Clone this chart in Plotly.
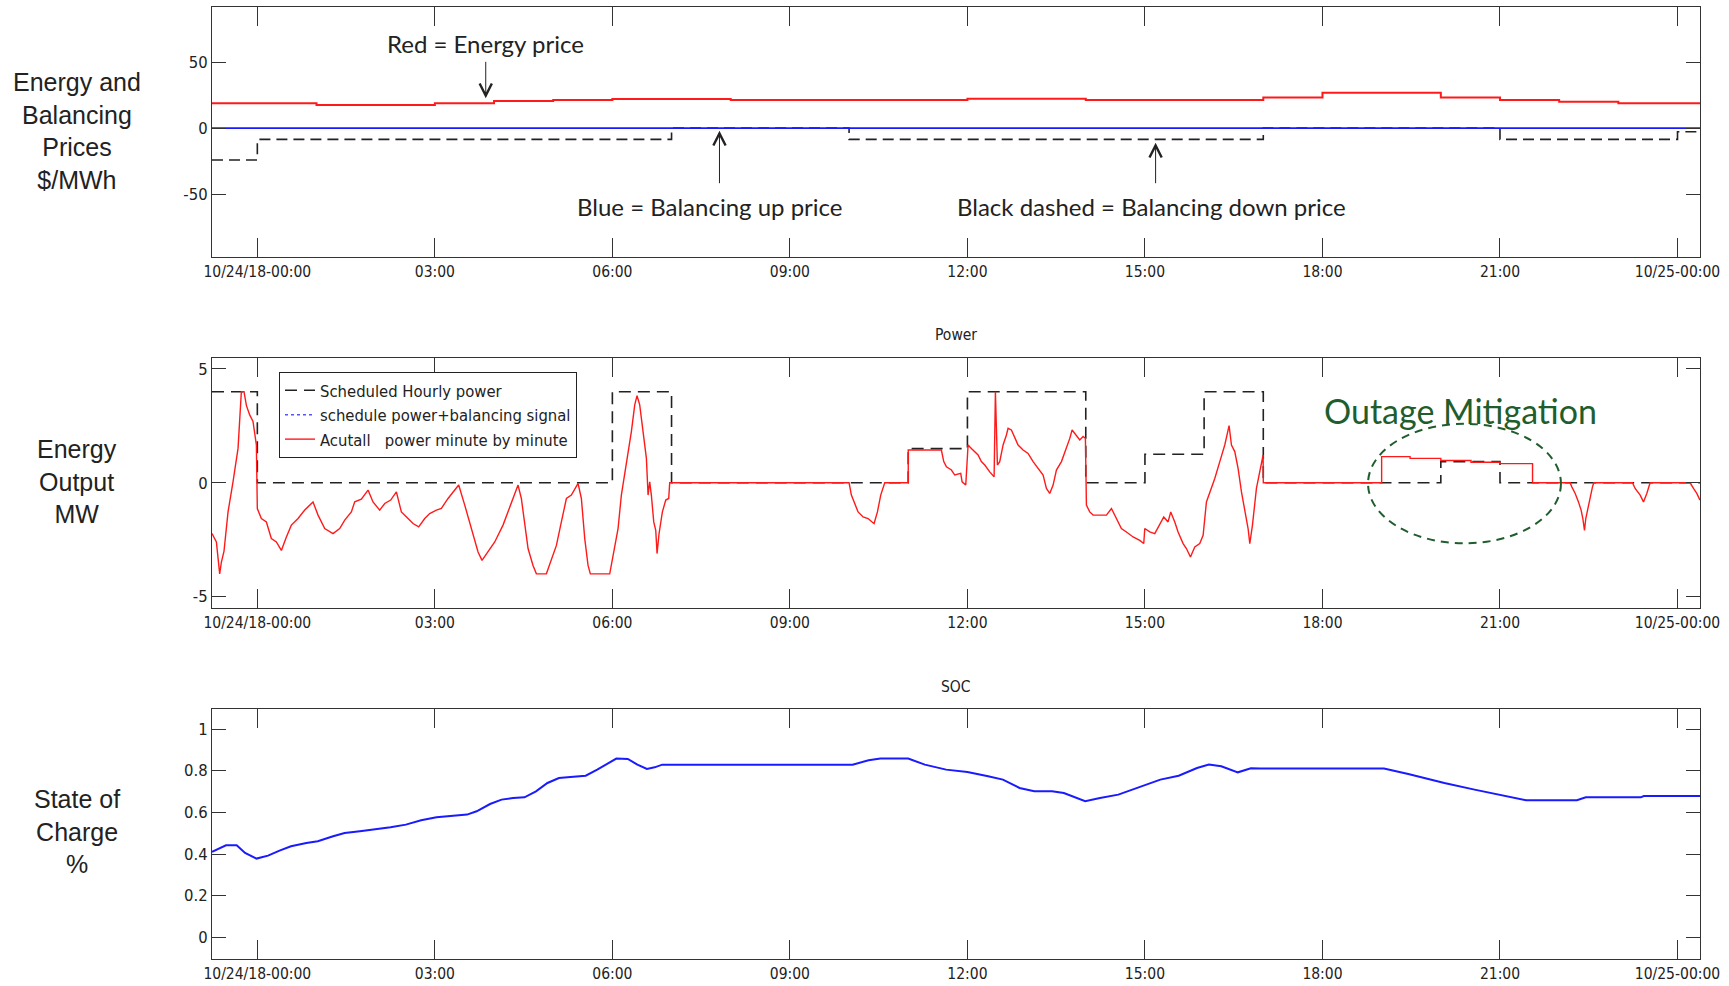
import pandas as pd
import plotly.graph_objects as go
from plotly.subplots import make_subplots

BASE = pd.Timestamp("2018-10-24 00:00")
X_START_H, X_END_H = -0.766, 24.38

# ---------------- Prices ($/MWh), hourly steps ----------------
price_hours = [-0.766, 1, 3, 4, 5, 6, 8, 12, 14, 17, 18, 20, 21, 22, 23, 24.38]
energy_price = [18.7, 17.4, 18.7, 20.5, 21.2, 22.0, 21.2, 22.2, 21.2, 23.2, 26.8, 23.2, 21.2, 19.9, 18.7, 18.7]
bal_up_hours = [-0.766, 24.38]
bal_up_price = [0.0, 0.0]
bal_down_hours = [-0.766, 0, 7, 10, 17, 21, 24, 24.38]
bal_down_price = [-24.2, -8.6, 0.0, -8.6, 0.0, -8.6, -2.8, -2.8]

# ---------------- Power (MW) ----------------
sched_hours = [-0.766, 0, 6, 7, 11, 12, 14, 15, 16, 17, 20, 21, 24.38]
sched_mw = [4, 0, 4, 0, 1.5, 4, 0, 1.25, 4, 0, 0.93, 0, 0]

power_hours = [
    -0.766, -0.692, -0.636, -0.608, -0.563, -0.495, -0.411, -0.326, -0.270, -0.225,
    -0.185, -0.129, -0.073, -0.016, 0.0, 0.068, 0.153, 0.237, 0.322, 0.406,
    0.491, 0.575, 0.688, 0.801, 0.941, 1.026, 1.139, 1.279, 1.392, 1.477,
    1.589, 1.646, 1.758, 1.871, 1.955, 2.068, 2.153, 2.254, 2.350, 2.434,
    2.547, 2.631, 2.727, 2.829, 2.913, 3.026, 3.110, 3.223, 3.336, 3.403,
    3.505, 3.617, 3.730, 3.797, 3.899, 4.012, 4.152, 4.237, 4.321, 4.406,
    4.462, 4.519, 4.575, 4.659, 4.716, 4.885, 4.969, 5.054, 5.138, 5.223,
    5.307, 5.364, 5.420, 5.476, 5.533, 5.589, 5.628, 5.955, 6.011, 6.096,
    6.152, 6.237, 6.321, 6.378, 6.417, 6.462, 6.519, 6.575, 6.603, 6.631,
    6.659, 6.699, 6.733, 6.755, 6.789, 6.845, 6.902, 6.952, 6.969, 7.0,
    10.0, 10.039, 10.096, 10.152, 10.237, 10.321, 10.389, 10.423, 10.479, 10.535,
    10.603, 11.0, 11.0, 11.560, 11.600, 11.645, 11.730, 11.786, 11.887, 11.910,
    11.972, 12.011, 12.067, 12.124, 12.180, 12.236, 12.293, 12.377, 12.451, 12.473,
    12.496, 12.507, 12.546, 12.603, 12.659, 12.687, 12.743, 12.800, 12.856, 12.941,
    13.025, 13.110, 13.194, 13.279, 13.335, 13.391, 13.448, 13.504, 13.589, 13.673,
    13.730, 13.769, 13.842, 13.899, 13.955, 13.994, 14.011, 14.067, 14.124, 14.236,
    14.349, 14.434, 14.518, 14.602, 14.687, 14.800, 14.912, 14.980, 14.997, 15.081,
    15.166, 15.250, 15.318, 15.391, 15.436, 15.504, 15.560, 15.645, 15.701, 15.769,
    15.842, 15.926, 15.983, 16.039, 16.124, 16.180, 16.265, 16.349, 16.422, 16.462,
    16.518, 16.574, 16.631, 16.687, 16.743, 16.772, 16.817, 16.884, 16.941, 16.997,
    17.0, 19.0, 19.0, 19.48, 19.48, 20.0, 20.0, 20.51, 20.51, 21.0,
    21.0, 21.55, 21.55, 22.185, 22.214, 22.271, 22.326, 22.371, 22.400, 22.428,
    22.450, 22.484, 22.523, 22.563, 22.585, 23.239, 23.284, 23.369, 23.425, 23.481,
    23.537, 24.213, 24.270, 24.326, 24.38,
]
power_mw = [
    -2.23, -2.6, -4.0, -3.5, -3.0, -1.28, 0.04, 1.51, 4.0, 4.0,
    3.4, 2.98, 2.69, 1.66, -1.13, -1.57, -1.72, -2.45, -2.6, -2.97,
    -2.38, -1.86, -1.57, -1.2, -0.84, -1.42, -2.01, -2.23, -2.01, -1.64,
    -1.28, -0.84, -0.72, -0.32, -0.84, -1.2, -0.91, -0.76, -0.4, -1.28,
    -1.57, -1.79, -1.94, -1.57, -1.35, -1.2, -1.13, -0.69, -0.32, -0.1,
    -0.98, -2.01, -3.04, -3.41, -3.04, -2.6, -1.86, -1.28, -0.69, -0.1,
    -0.69, -1.72, -2.89, -3.63, -4.0, -4.0, -3.33, -2.75, -1.72, -0.69,
    -0.54, -0.25, -0.03, -0.69, -2.45, -3.63, -4.0, -4.0, -3.19, -2.01,
    -0.54, 0.78, 2.25, 3.42, 3.83, 3.42, 2.25, 1.07, -0.54, 0.04,
    -0.54, -1.72, -2.09, -3.11, -2.23, -1.28, -0.76, -0.69, 0.0, 0.0,
    0.0, -0.54, -0.91, -1.28, -1.5, -1.57, -1.72, -1.79, -1.28, -0.54,
    0.0, 0.0, 1.44, 1.44, 0.93, 0.7, 0.56, 0.34, 0.41, 0.04,
    -0.1, 1.66, 1.51, 1.37, 1.22, 0.93, 0.78, 0.48, 0.26, 4.0,
    2.25, 0.78, 0.93, 1.66, 2.1, 2.39, 2.32, 1.95, 1.66, 1.44,
    1.29, 0.93, 0.63, 0.34, -0.25, -0.47, -0.1, 0.56, 0.93, 1.51,
    1.95, 2.32, 2.1, 1.88, 2.03, 1.95, -0.98, -1.28, -1.42, -1.42,
    -1.42, -1.13, -1.57, -2.01, -2.16, -2.38, -2.53, -2.67, -2.01, -2.16,
    -2.23, -1.86, -1.5, -1.72, -1.28, -1.72, -2.16, -2.67, -2.89, -3.26,
    -2.82, -2.67, -2.31, -0.84, -0.25, 0.19, 0.93, 1.66, 2.51, 1.66,
    1.37, 0.63, -0.4, -1.28, -2.01, -2.67, -1.86, -0.25, 0.48, 1.22,
    0.0, 0.0, 1.15, 1.15, 1.07, 1.07, 0.98, 0.98, 0.9, 0.9,
    0.84, 0.84, 0.0, 0.0, -0.18, -0.47, -0.84, -1.2, -1.57, -2.09,
    -1.57, -1.13, -0.69, -0.18, 0.0, 0.0, -0.25, -0.54, -0.84, -0.47,
    0.0, 0.0, -0.25, -0.47, -0.76,
]

# ---------------- State of charge ----------------
soc_hours = [
    -0.766, -0.660, -0.530, -0.349, -0.207, -0.013, 0.181, 0.375, 0.569, 0.828,
    1.022, 1.281, 1.475, 1.733, 1.992, 2.251, 2.510, 2.768, 3.027, 3.286,
    3.545, 3.706, 3.933, 4.127, 4.321, 4.515, 4.709, 4.903, 5.097, 5.291,
    5.549, 5.744, 5.938, 6.067, 6.261, 6.423, 6.584, 6.714, 6.843, 10.06,
    10.33, 10.53, 11.0, 11.28, 11.64, 12.0, 12.35, 12.6, 12.88, 13.13,
    13.43, 13.63, 13.99, 14.24, 14.55, 14.95, 15.26, 15.57, 15.88, 16.08,
    16.29, 16.57, 16.79, 16.95, 19.04, 19.45, 20.06, 20.57, 21.08, 21.44,
    22.3, 22.45, 23.38, 23.43, 24.38,
]
soc = [
    0.41, 0.424, 0.442, 0.442, 0.405, 0.378, 0.392, 0.416, 0.437, 0.453,
    0.461, 0.485, 0.501, 0.509, 0.517, 0.528, 0.541, 0.562, 0.576, 0.584,
    0.589, 0.605, 0.640, 0.661, 0.669, 0.672, 0.701, 0.741, 0.765, 0.770,
    0.776, 0.805, 0.837, 0.858, 0.856, 0.829, 0.808, 0.816, 0.829, 0.829,
    0.85, 0.858, 0.858, 0.829, 0.805, 0.794, 0.773, 0.757, 0.717, 0.701,
    0.701, 0.693, 0.653, 0.669, 0.685, 0.725, 0.757, 0.776, 0.813, 0.829,
    0.821, 0.792, 0.811, 0.810, 0.810, 0.784, 0.741, 0.709, 0.680, 0.658,
    0.658, 0.672, 0.672, 0.678, 0.678,
]

# ---------------- Tick labels ----------------
tick_hours = [0, 3, 6, 9, 12, 15, 18, 21, 24]
tick_labels = ["10/24/18-00:00", "03:00", "06:00", "09:00", "12:00", "15:00", "18:00", "21:00", "10/25-00:00"]
price_ticks = [-50, 0, 50]
price_tick_labels = ["-50", "0", "50"]
power_ticks = [-5, 0, 5]
power_tick_labels = ["-5", "0", "5"]
soc_ticks = [0, 0.2, 0.4, 0.6, 0.8, 1]
soc_tick_labels = ["0", "0.2", "0.4", "0.6", "0.8", "1"]


def t(hours):
    return [BASE + pd.Timedelta(hours=h) for h in hours]


NARROW = "DejaVu Sans Condensed, Liberation Sans Narrow, sans-serif"
ARIAL = "Liberation Sans, Arial, sans-serif"
CAL = "Lato, Carlito, Calibri, sans-serif"
FRAME = "#333333"
RED = "#ff1a1a"
BLUE = "#1a1aff"
TICK_FS = 15.5

W, H = 1729, 986
ML, MR = 212, 29
PW = W - ML - MR


def ydom(top_px, bot_px):
    return [1 - bot_px / H, 1 - top_px / H]


def px_x(px):
    return (px - ML) / PW


def px_y(py):
    return 1 - py / H


fig = make_subplots(rows=3, cols=1)

# Top: prices
fig.add_trace(go.Scatter(x=t(bal_down_hours), y=bal_down_price, mode="lines", line_shape="hv",
                         line=dict(color="#222222", width=1.6, dash="11px,6px"), showlegend=False),
              row=1, col=1)
fig.add_trace(go.Scatter(x=t(bal_up_hours), y=bal_up_price, mode="lines",
                         line=dict(color=BLUE, width=1.8), showlegend=False), row=1, col=1)
fig.add_trace(go.Scatter(x=t(price_hours), y=energy_price, mode="lines", line_shape="hv",
                         line=dict(color=RED, width=2.0), showlegend=False), row=1, col=1)

# Middle: power
fig.add_trace(go.Scatter(x=t(sched_hours), y=sched_mw, mode="lines", line_shape="hv",
                         line=dict(color="#222222", width=1.6, dash="12px,7px"),
                         name="Scheduled Hourly power"), row=2, col=1)
fig.add_trace(go.Scatter(x=[None], y=[None], mode="lines",
                         line=dict(color="#5555ff", width=1.4, dash="dot"),
                         name="schedule power+balancing signal"), row=2, col=1)
fig.add_trace(go.Scatter(x=t(power_hours), y=power_mw, mode="lines",
                         line=dict(color=RED, width=1.4),
                         name="Acutall   power minute by minute"), row=2, col=1)

# Bottom: SOC
fig.add_trace(go.Scatter(x=t(soc_hours), y=soc, mode="lines",
                         line=dict(color=BLUE, width=2), showlegend=False), row=3, col=1)

xr = [BASE + pd.Timedelta(hours=X_START_H), BASE + pd.Timedelta(hours=X_END_H)]
xcommon = dict(range=xr, tickmode="array", tickvals=t(tick_hours), ticktext=tick_labels,
               ticks="inside", ticklen=19, tickcolor=FRAME, tickwidth=1,
               showline=True, linecolor=FRAME, linewidth=1.2, mirror="ticks",
               showgrid=False, zeroline=False,
               tickfont=dict(family=NARROW, size=TICK_FS, color="#222222"))
ycommon = dict(ticks="inside", ticklen=14, tickcolor=FRAME, tickwidth=1,
               showline=True, linecolor=FRAME, linewidth=1.2, mirror="ticks",
               showgrid=False, zeroline=False, tickmode="array",
               tickfont=dict(family=NARROW, size=TICK_FS + 1, color="#222222"))

doms = [ydom(7, 257), ydom(358, 608), ydom(709, 959)]
for i, ax in enumerate(["", "2", "3"]):
    fig.layout["xaxis" + ax].update(**xcommon)
    fig.layout["yaxis" + ax].update(**ycommon, domain=doms[i])

fig.layout.yaxis.update(range=[-97.7, 91.7], tickvals=price_ticks, ticktext=price_tick_labels)
fig.layout.yaxis2.update(range=[-5.5, 5.48], tickvals=power_ticks, ticktext=power_tick_labels)
fig.layout.yaxis3.update(range=[-0.104, 1.096], tickvals=soc_ticks, ticktext=soc_tick_labels)

annotations = []
# Side labels
for text, cy in [("Energy and<br>Balancing<br>Prices<br>$/MWh", 131),
                 ("Energy<br>Output<br>MW", 481),
                 ("State of<br>Charge<br>%", 831)]:
    annotations.append(dict(text=text, xref="paper", yref="paper", x=px_x(77), y=px_y(cy),
                            xanchor="center", yanchor="middle", showarrow=False,
                            font=dict(family=ARIAL, size=25, color="#222222")))
# Subplot titles
for text, cy in [("Power", 335), ("SOC", 687)]:
    annotations.append(dict(text=text, xref="paper", yref="paper", x=0.5, y=px_y(cy),
                            xanchor="center", yanchor="middle", showarrow=False,
                            font=dict(family=NARROW, size=TICK_FS, color="#222222")))


def hx(h):
    return BASE + pd.Timedelta(hours=h)


# Price annotations (text)
for text, h, v in [("Red = Energy price", 3.848, 64.4),
                   ("Blue = Balancing up price", 7.65, -59.5),
                   ("Black dashed = Balancing down price", 15.11, -59.2)]:
    annotations.append(dict(text=text, xref="x", yref="y", x=hx(h), y=v, showarrow=False,
                            xanchor="center", yanchor="middle",
                            font=dict(family=CAL, size=24, color="#222222")))
# Arrows
for h, v, ay in [(3.86, 22.5, -38), (7.81, -2.0, 54), (15.18, -11.1, 42)]:
    annotations.append(dict(text="", xref="x", yref="y", x=hx(h), y=v, ax=0, ay=ay,
                            showarrow=True, arrowhead=5, arrowsize=2.4, arrowwidth=1,
                            arrowcolor="#222222", standoff=0, startstandoff=0))
# Outage mitigation
annotations.append(dict(text="Outage Mitigation", xref="x2", yref="y2", x=hx(20.33), y=3.16,
                        showarrow=False, xanchor="center", yanchor="middle",
                        font=dict(family=CAL, size=34, color="#1f5e2c")))

shapes = [dict(type="circle", xref="x2", yref="y2", x0=hx(18.77), x1=hx(22.03), y0=-2.66, y1=2.59,
               line=dict(color="#1f5e2c", width=2, dash="8px,6px"), layer="above")]

fig.update_layout(
    width=W, height=H,
    margin=dict(l=ML, r=MR, t=0, b=0, autoexpand=False),
    paper_bgcolor="white", plot_bgcolor="white",
    annotations=annotations, shapes=shapes,
    showlegend=True,
    legend=dict(x=px_x(279), y=px_y(372), xanchor="left", yanchor="top",
                bgcolor="white", bordercolor="#222222", borderwidth=1,
                font=dict(family=NARROW, size=16.5, color="#222222"), tracegroupgap=0),
)

fig.write_html("out.html", config={"displayModeBar": False},
               post_script="document.body.style.margin='0px';document.body.style.overflow='hidden';")
